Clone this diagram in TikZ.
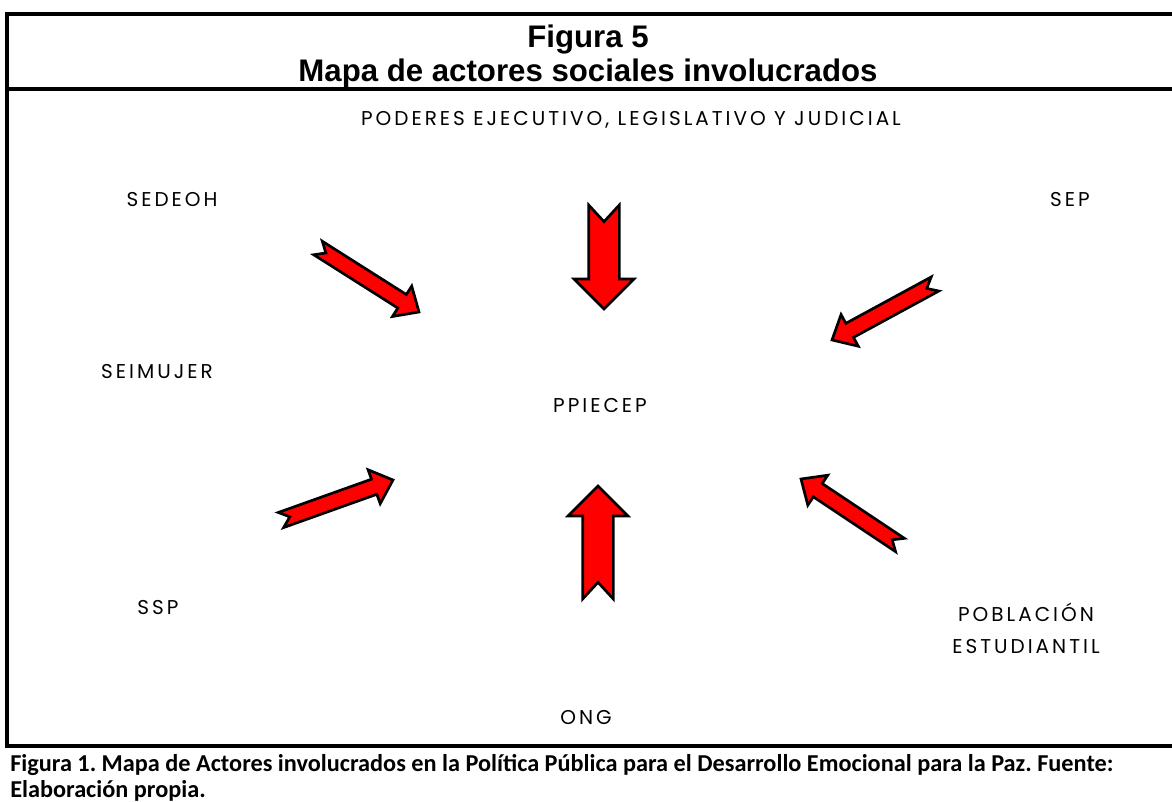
\documentclass[tikz,border=0pt]{standalone}
\usepackage{fontspec}
\setmainfont{Liberation Sans}
\newfontfamily\gothicfont[LetterSpace=15]{Poppins}
\newfontfamily\calibrifont{Carlito}
\usetikzlibrary{calc}
\frenchspacing

\tikzset{
  actor/.style={font=\gothicfont\fontsize{15}{24}\selectfont, align=center, inner sep=0pt},
  frameline/.style={line width=2.3pt},
  blockarrow/.style={fill=red, draw=black, line width=2pt, line join=miter},
  caption/.style={font=\calibrifont\bfseries\fontsize{18.2}{22}\selectfont, anchor=west, inner sep=0pt},
}

% notched block arrow: tail, tip, half shaft, half head, head length, notch
\newcommand{\notcharrow}[6]{%
  \filldraw[blockarrow] let \p1=($(#2)-(#1)$), \n1={atan2(\y1,\x1)}, \n2={veclen(\x1,\y1)} in
    ($(#1)+({\n1+90}:#3)$) -- ($(#1)+({\n1}:{\n2-#5})+({\n1+90}:#3)$)
    -- ($(#1)+({\n1}:{\n2-#5})+({\n1+90}:#4)$) -- (#2)
    -- ($(#1)+({\n1}:{\n2-#5})+({\n1-90}:#4)$) -- ($(#1)+({\n1}:{\n2-#5})+({\n1-90}:#3)$)
    -- ($(#1)+({\n1-90}:#3)$) -- ($(#1)+({\n1}:#6)$) -- cycle;
}

\begin{document}
\begin{tikzpicture}[x=0.75pt, y=-0.75pt]
  \useasboundingbox (0,0) rectangle (1172,802);

  % marco
  \draw[frameline] (1172,14) -- (7,14) -- (7,746) -- (1172,746);
  \draw[frameline] (7,89) -- (1172,89);

  % titulo
  \node[font=\bfseries\fontsize{23.4}{28}\selectfont] (fig) at (588,40) {Figura 5};
  \node[font=\bfseries\fontsize{23.4}{28}\selectfont] (title) at (588,73) {Mapa de actores sociales involucrados};

  % actores
  \node[actor] (poderes) at (631,120) {PODERES EJECUTIVO, LEGISLATIVO Y JUDICIAL};
  \node[actor] (sedeoh) at (172,200) {SEDEOH};
  \node[actor] (sep) at (1070,200) {SEP};
  \node[actor] (seimujer) at (157,372) {SEIMUJER};
  \node[actor] (ppiecep) at (600,405) {PPIECEP};
  \node[actor] (ssp) at (158,608) {SSP};
  \node[actor] (poblacion) at (1026,628) {POBLACIÓN\\ESTUDIANTIL};
  \node[actor] (ong) at (586,718) {ONG};

  % extremos de las flechas
  \coordinate (poderes-tail) at (604,205);  \coordinate (poderes-tip) at (604,309);
  \coordinate (ong-tail) at (598,599);      \coordinate (ong-tip) at (598,486);
  \coordinate (sedeoh-tail) at (318,248);   \coordinate (sedeoh-tip) at (419,312);
  \coordinate (sep-tail) at (935,284);      \coordinate (sep-tip) at (832,340);
  \coordinate (ssp-tail) at (281,520);      \coordinate (ssp-tip) at (393,480);
  \coordinate (poblacion-tail) at (900,545); \coordinate (poblacion-tip) at (801,479);

  % flechas
  \notcharrow{poderes-tail}{poderes-tip}{11.5pt}{22.5pt}{22.5pt}{12.5pt}
  \notcharrow{ong-tail}{ong-tip}{11.5pt}{22.5pt}{22.5pt}{12.5pt}
  \notcharrow{sedeoh-tail}{sedeoh-tip}{6pt}{13.5pt}{15pt}{7pt}
  \notcharrow{sep-tail}{sep-tip}{6pt}{13.5pt}{15pt}{7pt}
  \notcharrow{ssp-tail}{ssp-tip}{6pt}{13.5pt}{15pt}{7pt}
  \notcharrow{poblacion-tail}{poblacion-tip}{6pt}{13.5pt}{15pt}{7pt}

  % pie de figura
  \node[caption] (cap1) at (10,765)
    {Figura 1. Mapa de Actores involucrados en la Política Pública para el Desarrollo Emocional para la Paz. Fuente:};
  \node[caption] (cap2) at (10,791) {Elaboración propia.};
\end{tikzpicture}
\end{document}
